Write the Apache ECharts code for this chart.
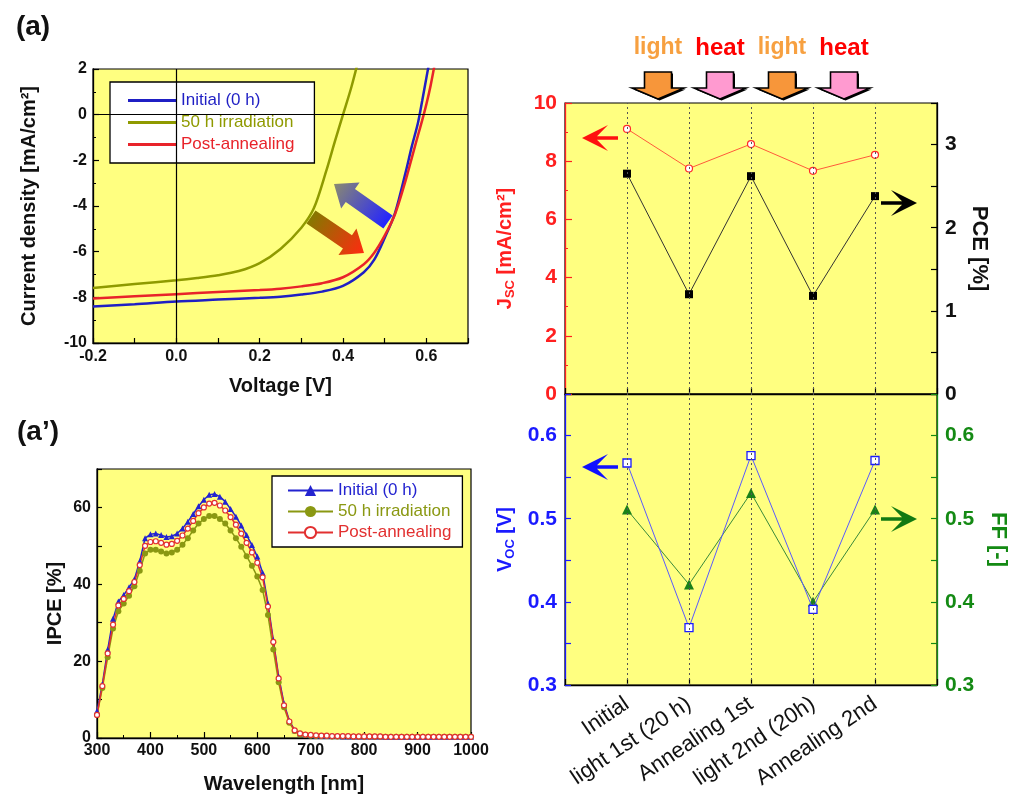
<!DOCTYPE html>
<html><head><meta charset="utf-8">
<script src="https://cdn.jsdelivr.net/npm/echarts@6/dist/echarts.min.js"></script>
<style>html,body{margin:0;padding:0;background:#fff}#c{width:1014px;height:795px}</style>
</head><body><div id="c"></div>
<script>
// ---------- DATA ----------
// (a) J-V curves
const jvVoltageInitial = [-0.2,-0.1,0,0.1,0.2,0.25,0.3,0.35,0.4,0.45,0.475,0.5,0.525,0.55,0.565,0.58,0.59,0.6,0.61,0.62];
const jvCurrentInitial = [-8.40,-8.30,-8.18,-8.10,-8.02,-7.97,-7.88,-7.75,-7.50,-6.90,-6.35,-5.40,-4.30,-2.55,-1.40,-0.35,0.60,1.60,2.60,3.60];
const jvVoltageIrr = [-0.2,-0.1,0,0.05,0.1,0.15,0.2,0.25,0.3,0.33,0.36,0.38,0.4,0.42,0.44,0.46];
const jvCurrentIrr = [-7.59,-7.42,-7.25,-7.15,-7.03,-6.85,-6.50,-5.88,-4.95,-4.10,-2.45,-1.20,0.00,1.20,2.60,4.00];
const jvVoltagePost = [-0.2,-0.1,0,0.1,0.2,0.25,0.3,0.35,0.4,0.45,0.475,0.5,0.525,0.55,0.565,0.58,0.59,0.6,0.61,0.62,0.63];
const jvCurrentPost = [-8.05,-7.95,-7.86,-7.77,-7.68,-7.62,-7.52,-7.38,-7.12,-6.55,-6.05,-5.30,-4.35,-2.90,-1.90,-0.90,-0.25,0.45,1.25,2.20,3.20];
const legendLabels = ['Initial (0 h)', '50 h irradiation', 'Post-annealing'];

// (a') IPCE spectra
const ipceWavelength = [300,310,320,330,340,350,360,370,380,390,400,410,420,430,440,450,460,470,480,490,500,510,520,530,540,550,560,570,580,590,600,610,620,630,640,650,660,670,680,690,700,710,720,730,740,750,760,770,780,790,800,810,820,830,840,850,860,870,880,890,900,910,920,930,940,950,960,970,980,990,1000];
const ipceInitial = [7.0,14.0,23.0,31.0,35.5,37.2,39.2,41.3,46.0,52.0,
  53.0,53.2,52.8,52.3,52.5,53.2,54.5,56.3,58.3,60.3,
  62.0,63.3,63.5,62.8,61.5,59.6,57.6,55.3,52.8,50.2,
  47.2,43.0,35.0,25.5,16.0,9.0,4.5,2.0,1.2,0.9,
  0.7,0.6,0.6,0.5,0.5,0.5,0.4,0.4,0.4,0.4,0.4,
  0.4,0.4,0.4,0.3,0.3,0.3,0.3,0.3,0.3,0.3,0.3,0.3,0.3,0.3,0.3,0.3,0.3,0.3,0.3,0.3];
const ipceIrradiated = [6.0,13.0,21.0,28.5,33.0,35.0,37.0,39.5,43.5,48.0,
  49.0,49.0,48.5,48.0,48.3,49.0,50.3,52.0,54.0,55.8,
  57.0,57.8,57.8,57.0,55.8,54.0,52.0,49.8,47.3,44.8,
  42.0,38.5,32.0,23.0,14.5,8.0,4.0,1.8,1.0,0.8,
  0.6,0.5,0.5,0.5,0.4,0.4,0.4,0.4,0.3,0.3,0.3,
  0.3,0.3,0.3,0.3,0.3,0.3,0.3,0.3,0.3,0.3,0.3,0.3,0.3,0.3,0.3,0.3,0.3,0.3,0.3,0.3];
const ipcePost = [6.0,13.5,22.0,29.5,34.5,36.2,38.2,40.6,45.0,50.0,
  51.0,51.2,50.8,50.3,50.5,51.3,52.7,54.5,56.5,58.5,
  60.0,61.0,61.2,60.5,59.2,57.5,55.5,53.2,50.8,48.3,
  45.6,41.8,34.2,25.0,15.5,8.5,4.3,2.0,1.2,0.9,
  0.8,0.7,0.6,0.6,0.5,0.5,0.5,0.5,0.4,0.4,0.4,
  0.4,0.4,0.4,0.3,0.3,0.3,0.3,0.3,0.3,0.3,0.3,0.3,0.3,0.3,0.3,0.3,0.3,0.3,0.3,0.3];

// right panel: stage evolution
const stageLabels = ['Initial', 'light 1st (20 h)', 'Annealing 1st', 'light 2nd (20h)', 'Annealing 2nd'];
const stagePositions = [1, 2, 3, 4, 5];
const stageJsc = [9.11, 7.75, 8.59, 7.67, 8.22];
const stagePCE = [2.65, 1.20, 2.62, 1.18, 2.38];
const stageVoc = [0.567, 0.369, 0.576, 0.391, 0.570];
const stageFF = [0.511, 0.421, 0.531, 0.400, 0.511];
const treatmentLabels = ['light', 'heat', 'light', 'heat'];
const treatmentPositions = [1.5, 2.5, 3.5, 4.5];

// ---------- STYLE ----------
const FONT = '"Liberation Sans", Arial, sans-serif';
const YEL = '#ffff80';
const C_BLUE = '#1f1fc4', C_OLIVE = '#8f9a00', C_RED = '#e8232a';
const C_IB = '#2323d0', C_IO = '#8a9812', C_IR = '#e23030';
const C_JSC = '#ff2020', C_VOC = '#1a1aff', C_FF = '#148a14';

function pairs(xs, ys) { return xs.map((x, i) => [x, ys[i]]); }

const chart = echarts.init(document.getElementById('c'));

const gridBase = { show: true, backgroundColor: YEL, borderColor: '#000', borderWidth: 1.2, containLabel: false };
const grids = [
  Object.assign({ left: 93, top: 69, width: 375, height: 274 }, gridBase),
  Object.assign({ left: 97, top: 469, width: 374, height: 272 }, gridBase),
  Object.assign({ left: 565, top: 103, width: 372, height: 291 }, gridBase),
  Object.assign({ left: 565, top: 394, width: 372, height: 291 }, gridBase)
];

function axisLineC(c) { return { show: true, onZero: false, lineStyle: { color: c, width: 1.3 } }; }
function tickC(c, len) { return { show: true, inside: true, length: len || 6, lineStyle: { color: c, width: 1.2 } }; }
function minorC(c) { return { show: true, splitNumber: 2, length: 3, lineStyle: { color: c, width: 1 } }; }
const noSplit = { show: false };

const xAxes = [
  { gridIndex: 0, type: 'value', min: -0.2, max: 0.7, interval: 0.1,
    axisLine: axisLineC('#000'), axisTick: tickC('#000', 5), splitLine: noSplit,
    axisLabel: { fontFamily: FONT, fontWeight: 'bold', fontSize: 16, color: '#111', margin: 6,
      formatter: v => (Math.round(v * 10) % 2 === 0 ? v.toFixed(1) : '') },
    name: 'Voltage [V]', nameLocation: 'middle', nameGap: 33,
    nameTextStyle: { fontFamily: FONT, fontWeight: 'bold', fontSize: 20, color: '#111' } },
  { gridIndex: 1, type: 'value', min: 300, max: 1000, interval: 100,
    axisLine: axisLineC('#000'), axisTick: tickC('#000', 6), minorTick: minorC('#000'), splitLine: noSplit,
    axisLabel: { fontFamily: FONT, fontWeight: 'bold', fontSize: 16, color: '#111', margin: 5,
      formatter: v => String(Math.round(v)) },
    name: 'Wavelength [nm]', nameLocation: 'middle', nameGap: 36,
    nameTextStyle: { fontFamily: FONT, fontWeight: 'bold', fontSize: 20, color: '#111' } },
  { gridIndex: 2, type: 'value', min: 0, max: 6, interval: 1,
    axisLine: axisLineC('#000'), axisTick: tickC('#000', 6), splitLine: noSplit,
    axisLabel: { show: false } },
  { gridIndex: 3, type: 'value', min: 0, max: 6, interval: 1,
    axisLine: axisLineC('#000'), axisTick: tickC('#000', 6), splitLine: noSplit,
    axisLabel: { fontFamily: FONT, fontSize: 22, color: '#111', rotate: 34, margin: 17,
      formatter: v => stageLabels[Math.round(v) - 1] || '' } }
];

function fmtDec(v) { return (Math.round(v * 100) % 10 === 0) ? v.toFixed(1) : ''; }

const yAxes = [
  { gridIndex: 0, type: 'value', min: -10, max: 2, interval: 2,
    axisLine: axisLineC('#000'), axisTick: tickC('#000', 6), minorTick: minorC('#000'), splitLine: noSplit,
    axisLabel: { fontFamily: FONT, fontWeight: 'bold', fontSize: 16, color: '#111', margin: 6 },
    name: 'Current density [mA/cm²]', nameLocation: 'middle', nameGap: 54,
    nameTextStyle: { fontFamily: FONT, fontWeight: 'bold', fontSize: 20, color: '#111' } },
  { gridIndex: 1, type: 'value', min: 0, max: 70, interval: 10,
    axisLine: axisLineC('#000'), axisTick: tickC('#000', 5), splitLine: noSplit,
    axisLabel: { fontFamily: FONT, fontWeight: 'bold', fontSize: 16, color: '#111', margin: 6,
      formatter: v => (Math.round(v) % 20 === 0 ? String(Math.round(v)) : '') },
    name: 'IPCE [%]', nameLocation: 'middle', nameGap: 32,
    nameTextStyle: { fontFamily: FONT, fontWeight: 'bold', fontSize: 20, color: '#111' } },
  { gridIndex: 2, type: 'value', position: 'left', min: 0, max: 10, interval: 2,
    axisLine: axisLineC(C_JSC), axisTick: tickC(C_JSC, 7), minorTick: minorC(C_JSC), splitLine: noSplit,
    axisLabel: { fontFamily: FONT, fontWeight: 'bold', fontSize: 21, color: C_JSC, margin: 8 },
    name: '{m|J}{s|SC}{m| [mA/cm²]}', nameLocation: 'middle', nameGap: 48,
    nameTextStyle: { fontFamily: FONT, fontWeight: 'bold', fontSize: 20, color: C_JSC,
      rich: { m: { fontFamily: FONT, fontWeight: 'bold', fontSize: 20, color: C_JSC, lineHeight: 24 },
              s: { fontFamily: FONT, fontWeight: 'bold', fontSize: 13, color: C_JSC, verticalAlign: 'bottom', lineHeight: 14 } } } },
  { gridIndex: 2, type: 'value', position: 'right', min: 0, max: 3.5, interval: 0.5,
    axisLine: axisLineC('#000'), axisTick: tickC('#000', 6), splitLine: noSplit,
    axisLabel: { fontFamily: FONT, fontWeight: 'bold', fontSize: 21, color: '#111', margin: 8,
      formatter: v => (Math.abs(v - Math.round(v)) < 1e-6 ? String(Math.round(v)) : '') },
    name: 'PCE [%]', nameLocation: 'middle', nameGap: 31, nameRotate: -90,
    nameTextStyle: { fontFamily: FONT, fontWeight: 'bold', fontSize: 22, color: '#111' } },
  { gridIndex: 3, type: 'value', position: 'left', min: 0.3, max: 0.65, interval: 0.05,
    axisLine: axisLineC(C_VOC), axisTick: tickC(C_VOC, 6), splitLine: noSplit,
    axisLabel: { fontFamily: FONT, fontWeight: 'bold', fontSize: 21, color: C_VOC, margin: 8, formatter: fmtDec },
    name: '{m|V}{s|OC}{m| [V]}', nameLocation: 'middle', nameGap: 48,
    nameTextStyle: { fontFamily: FONT, fontWeight: 'bold', fontSize: 20, color: C_VOC,
      rich: { m: { fontFamily: FONT, fontWeight: 'bold', fontSize: 20, color: C_VOC, lineHeight: 24 },
              s: { fontFamily: FONT, fontWeight: 'bold', fontSize: 13, color: C_VOC, verticalAlign: 'bottom', lineHeight: 14 } } } },
  { gridIndex: 3, type: 'value', position: 'right', min: 0.3, max: 0.65, interval: 0.05,
    axisLine: axisLineC(C_FF), axisTick: tickC(C_FF, 6), splitLine: noSplit,
    axisLabel: { fontFamily: FONT, fontWeight: 'bold', fontSize: 21, color: C_FF, margin: 8, formatter: fmtDec },
    name: 'FF [-]', nameLocation: 'middle', nameGap: 50, nameRotate: -90,
    nameTextStyle: { fontFamily: FONT, fontWeight: 'bold', fontSize: 22, color: C_FF } }
];

const dottedVerticals = {
  silent: true, symbol: 'none', label: { show: false },
  lineStyle: { color: '#555', type: [2, 3], width: 1 },
  data: stagePositions.map(p => ({ xAxis: p }))
};

const series = [
  { type: 'line', name: 'jv_init', xAxisIndex: 0, yAxisIndex: 0, data: pairs(jvVoltageInitial, jvCurrentInitial),
    symbol: 'none', smooth: 0.3, clip: true, lineStyle: { color: C_BLUE, width: 2.5 }, itemStyle: { color: C_BLUE },
    markLine: { silent: true, symbol: 'none', label: { show: false }, lineStyle: { color: '#000', type: 'solid', width: 1.2 },
      data: [{ xAxis: 0 }, { yAxis: 0 }] } },
  { type: 'line', name: 'jv_irr', xAxisIndex: 0, yAxisIndex: 0, data: pairs(jvVoltageIrr, jvCurrentIrr),
    symbol: 'none', smooth: 0.3, clip: true, lineStyle: { color: C_OLIVE, width: 2.5 }, itemStyle: { color: C_OLIVE } },
  { type: 'line', name: 'jv_post', xAxisIndex: 0, yAxisIndex: 0, data: pairs(jvVoltagePost, jvCurrentPost),
    symbol: 'none', smooth: 0.3, clip: true, lineStyle: { color: C_RED, width: 2.5 }, itemStyle: { color: C_RED } },

  { type: 'line', name: 'ipce_init', xAxisIndex: 1, yAxisIndex: 1, data: pairs(ipceWavelength, ipceInitial),
    symbol: 'triangle', symbolSize: 6, showAllSymbol: true, lineStyle: { color: C_IB, width: 1.5 }, itemStyle: { color: C_IB } },
  { type: 'line', name: 'ipce_irr', xAxisIndex: 1, yAxisIndex: 1, data: pairs(ipceWavelength, ipceIrradiated),
    symbol: 'circle', symbolSize: 6, showAllSymbol: true, lineStyle: { color: C_IO, width: 1.5 }, itemStyle: { color: C_IO } },
  { type: 'line', name: 'ipce_post', xAxisIndex: 1, yAxisIndex: 1, data: pairs(ipceWavelength, ipcePost),
    symbol: 'circle', symbolSize: 5, showAllSymbol: true, lineStyle: { color: C_IR, width: 1.5 },
    itemStyle: { color: '#fff', borderColor: C_IR, borderWidth: 1.2 } },

  { type: 'line', name: 'Jsc', xAxisIndex: 2, yAxisIndex: 2, data: pairs(stagePositions, stageJsc),
    symbol: 'circle', symbolSize: 7, lineStyle: { color: '#ff5a3a', width: 1 },
    itemStyle: { color: '#fff', borderColor: '#ff2a2a', borderWidth: 1.2 }, markLine: dottedVerticals, z: 3 },
  { type: 'line', name: 'PCE', xAxisIndex: 2, yAxisIndex: 3, data: pairs(stagePositions, stagePCE),
    symbol: 'rect', symbolSize: 8, lineStyle: { color: '#333', width: 1 }, itemStyle: { color: '#000' }, z: 3 },
  { type: 'line', name: 'Voc', xAxisIndex: 3, yAxisIndex: 4, data: pairs(stagePositions, stageVoc),
    symbol: 'rect', symbolSize: 8, lineStyle: { color: '#5a5aff', width: 1 },
    itemStyle: { color: '#fff', borderColor: C_VOC, borderWidth: 1.3 }, markLine: dottedVerticals, z: 4 },
  { type: 'line', name: 'FF', xAxisIndex: 3, yAxisIndex: 5, data: pairs(stagePositions, stageFF),
    symbol: 'triangle', symbolSize: 10, lineStyle: { color: '#3a8a3a', width: 1 }, itemStyle: { color: '#1a801a' }, z: 3 }
];

const labelMap = { jv_init: legendLabels[0], jv_irr: legendLabels[1], jv_post: legendLabels[2],
  ipce_init: legendLabels[0], ipce_irr: legendLabels[1], ipce_post: legendLabels[2] };

const legendBase = { orient: 'vertical', backgroundColor: '#fff', borderColor: '#000', borderWidth: 1.3,
  itemWidth: 46, itemHeight: 14, selectedMode: false, formatter: n => labelMap[n],
  textStyle: { fontFamily: FONT, fontSize: 17 } };

const legends = [
  Object.assign({}, legendBase, { left: 110, top: 82, padding: [10, 20, 10, 18], itemGap: 5, itemHeight: 3, itemWidth: 48,
    data: [{ name: 'jv_init', icon: 'rect', textStyle: { color: C_BLUE } },
           { name: 'jv_irr', icon: 'rect', textStyle: { color: C_OLIVE } },
           { name: 'jv_post', icon: 'rect', textStyle: { color: C_RED } }] }),
  Object.assign({}, legendBase, { left: 272, top: 476, padding: [6, 11, 6, 15], itemGap: 4, itemWidth: 45,
    data: [{ name: 'ipce_init', textStyle: { color: C_IB } }, { name: 'ipce_irr', textStyle: { color: C_IO } }, { name: 'ipce_post', textStyle: { color: C_IR } }] })
];

function gradArrow(tail, tip, shaftW, headW, headL, c1, c2) {
  const dx = tip[0] - tail[0], dy = tip[1] - tail[1];
  const L = Math.hypot(dx, dy), ux = dx / L, uy = dy / L, nx = -uy, ny = ux;
  const hb = [tip[0] - ux * headL, tip[1] - uy * headL];
  const P = (b, s) => [b[0] + nx * s, b[1] + ny * s];
  return { type: 'polygon', z: 50,
    shape: { points: [P(tail, shaftW / 2), P(hb, shaftW / 2), P(hb, headW / 2), tip, P(hb, -headW / 2), P(hb, -shaftW / 2), P(tail, -shaftW / 2)] },
    style: { fill: { type: 'linear', x: tail[0], y: tail[1], x2: tip[0], y2: tip[1], global: true,
      colorStops: [{ offset: 0, color: c1 }, { offset: 1, color: c2 }] } } };
}

function sideArrow(tipX, tipY, dir, color) {
  const s = -dir;
  const pts = [[0, 0], [26, -13], [15, -1.8], [36, -1.8], [36, 1.8], [15, 1.8], [26, 13]]
    .map(p => [tipX + s * p[0], tipY + p[1]]);
  return { type: 'polygon', z: 50, shape: { points: pts }, style: { fill: color } };
}

function textEl(x, y, text, color, size, weight) {
  return { type: 'text', z: 60, x: x, y: y,
    style: { text: text, fill: color, fontFamily: FONT, fontSize: size, fontWeight: weight || 'bold',
      align: 'center', verticalAlign: 'middle', textAlign: 'center', textVerticalAlign: 'middle' } };
}

const option = {
  animation: false,
  backgroundColor: '#fff',
  grid: grids, xAxis: xAxes, yAxis: yAxes, series: series, legend: legends
};
chart.setOption(option);

const graphics = [];
graphics.push(textEl(33, 27, '(a)', '#111', 28, 'bold'));
graphics.push(textEl(38, 432, '(a\u2019)', '#111', 28, 'bold'));
graphics.push(gradArrow([388, 222], [334, 184], 16, 32, 20, '#2424ff', '#8a8a70'));
graphics.push(gradArrow([311, 217], [364, 253], 16, 32, 20, '#857800', '#ff2a10'));
graphics.push(sideArrow(582, 138, -1, '#ff1010'));
graphics.push(sideArrow(917, 203, 1, '#000'));
graphics.push(sideArrow(582, 467, -1, '#1010ff'));
graphics.push(sideArrow(917, 519, 1, '#127a12'));

treatmentPositions.forEach((p, i) => {
  const cx = chart.convertToPixel({ xAxisIndex: 2 }, p);
  const isLight = treatmentLabels[i] === 'light';
  const fill = isLight ? '#f7963a' : '#ff9ad0';
  const pts = [[-13.5, 72], [13.5, 72], [13.5, 88], [26, 88], [0, 99], [-26, 88], [-13.5, 88]].map(q => [cx + q[0], q[1]]);
  graphics.push({ type: 'polygon', z: 48, shape: { points: pts.map(q => [q[0] + 1.5, q[1] + 1.5]) }, style: { fill: '#000' } });
  graphics.push({ type: 'polygon', z: 49, shape: { points: pts }, style: { fill: fill, stroke: '#000', lineWidth: 1.6 } });
  graphics.push(textEl(cx, 48, treatmentLabels[i], isLight ? '#f7a040' : '#ff0000', isLight ? 23 : 24, 'bold'));
});

chart.setOption({ graphic: graphics });
</script>
</body></html>
